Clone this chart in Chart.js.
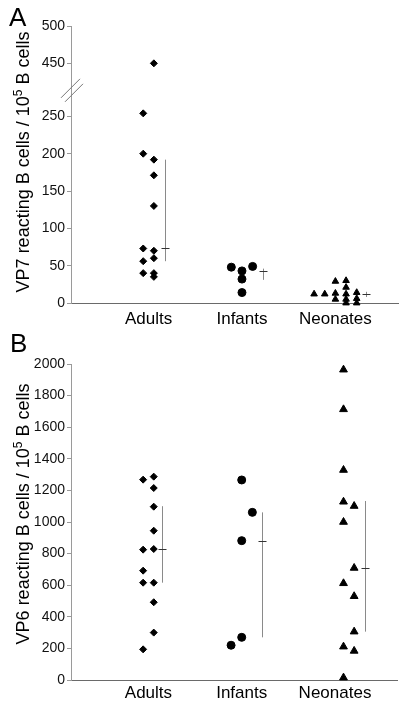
<!DOCTYPE html>
<html>
<head>
<meta charset="utf-8">
<script src="https://cdn.jsdelivr.net/npm/chart.js@4.4.0/dist/chart.umd.min.js"></script>
<style>
  body { margin: 0; background: #fff; }
  canvas { display: block; }
</style>
</head>
<body>
<canvas id="panelA" width="403" height="330"></canvas>
<canvas id="panelB" width="403" height="374"></canvas>
<script>
// categories
var groups = ['Adults', 'Infants', 'Neonates'];

// panel A - VP7 (values per 10^5 B cells)
var vp7Adults   = [450, 254, 200, 192, 171, 130, 73, 70, 60, 56, 40, 40, 35];
var vp7Infants  = [48, 43, 32, 49, 14];
var vp7Neonates = [12, 12, 29, 13, 5, 30, 21, 12, 5, 0, 14, 6, 0];
// column within the group (beeswarm slot) as seen in the figure
var vp7AdultsCol   = [0.5, -0.5, -0.5, 0.5, 0.5, 0.5, -0.5, 0.5, 0.5, -0.5, -0.5, 0.5, 0.5];
var vp7InfantsCol  = [-1, 0, 0, 1, 0];
var vp7NeonatesCol = [-2, -1, 0, 0, 0, 1, 1, 1, 1, 1, 2, 2, 2];
// median and range bars
var vp7Mid  = [73, 43, 12];
var vp7Low  = [56, 31, 8];
var vp7High = [192, 46, 15];
var vp7BarCol = [1.5, 2, 2.9];
var vp7Ticks = [0, 50, 100, 150, 200, 250, 450, 500];

// panel B - VP6
var vp6Adults   = [1287, 1268, 1215, 1097, 945, 829, 825, 692, 616, 616, 492, 300, 194];
var vp6Infants  = [1266, 1061, 882, 270, 220];
var vp6Neonates = [1964, 1713, 1329, 1128, 1101, 1000, 709, 612, 530, 306, 211, 184, 15];
var vp6AdultsCol   = [0.5, -0.5, 0.5, 0.5, 0.5, 0.5, -0.5, -0.5, -0.5, 0.5, 0.5, 0.5, -0.5];
var vp6InfantsCol  = [0, 1, 0, 0, -1];
var vp6NeonatesCol = [0.8, 0.8, 0.8, 0.8, 1.8, 0.8, 1.8, 0.8, 1.8, 1.8, 0.8, 1.8, 0.8];
var vp6Mid  = [827, 882, 709];
var vp6Low  = [616, 270, 306];
var vp6High = [1100, 1061, 1133];
var vp6BarCol = [1.3, 1.9, 2.8];
var vp6Ticks = [0, 200, 400, 600, 800, 1000, 1200, 1400, 1600, 1800, 2000];

var FONT = "'Liberation Sans', Arial, Helvetica, sans-serif";
var COL_STEP = 0.114;

// broken axis in panel A: everything above 300 is pulled down
var BREAK_AT = 300, BREAK_GAP = 129;
function vp7Axis(v) { return v > BREAK_AT ? v - BREAK_GAP : v; }
function plain(v) { return v; }

Chart.defaults.font.family = FONT;
Chart.defaults.color = '#111';

function points(values, cols, group, yMap) {
  return values.map(function (v, i) {
    return { x: group + cols[i] * COL_STEP, y: yMap(v) };
  });
}

function makeDatasets(series, cols, yMap, radii) {
  var styles = ['rectRot', 'circle', 'triangle'];
  return series.map(function (vals, g) {
    return {
      data: points(vals, cols[g], g + 1, yMap),
      pointStyle: styles[g],
      pointRadius: radii[g],
      pointBorderWidth: 1,
      backgroundColor: '#000',
      borderColor: '#000',
      showLine: false,
      clip: false
    };
  });
}

var errorBars = {
  id: 'errorBars',
  afterDatasetsDraw: function (chart, args, opts) {
    var xs = chart.scales.x, ys = chart.scales.y, ctx = chart.ctx;
    ctx.save();
    opts.mid.forEach(function (m, i) {
      var px = Math.round(xs.getPixelForValue(i + 1 + opts.col[i] * COL_STEP)) + 0.5;
      var top = ys.getPixelForValue(opts.yMap(opts.high[i]));
      var bot = ys.getPixelForValue(opts.yMap(opts.low[i]));
      var mid = Math.round(ys.getPixelForValue(opts.yMap(m))) + 0.5;
      ctx.strokeStyle = '#8a8a8a';
      ctx.lineWidth = 1;
      ctx.beginPath();
      ctx.moveTo(px, top);
      ctx.lineTo(px, bot);
      ctx.stroke();
      ctx.strokeStyle = '#333';
      ctx.beginPath();
      ctx.moveTo(px - 4, mid);
      ctx.lineTo(px + 4, mid);
      ctx.stroke();
    });
    ctx.restore();
  }
};

var decorations = {
  id: 'decorations',
  afterDraw: function (chart, args, opts) {
    var ctx = chart.ctx, a = chart.chartArea;
    ctx.save();
    // panel letter
    ctx.fillStyle = '#000';
    ctx.font = '26px ' + FONT;
    ctx.textBaseline = 'alphabetic';
    ctx.textAlign = 'left';
    ctx.fillText(opts.letter, opts.letterX, opts.letterY);
    // y axis title with superscript
    var big = '18px ' + FONT, small = '12px ' + FONT;
    ctx.font = big;
    var w1 = ctx.measureText(opts.before).width;
    var w3 = ctx.measureText(opts.after).width;
    ctx.font = small;
    var w2 = ctx.measureText(opts.sup).width;
    var x0 = -(w1 + w2 + w3) / 2;
    ctx.translate(opts.titleX, (a.top + a.bottom) / 2 + opts.titleDy);
    ctx.rotate(-Math.PI / 2);
    ctx.font = big;
    ctx.fillText(opts.before, x0, 0);
    ctx.font = small;
    ctx.fillText(opts.sup, x0 + w1, -7);
    ctx.font = big;
    ctx.fillText(opts.after, x0 + w1 + w2, 0);
    ctx.restore();
    // axis break marks
    if (opts.breakAt != null) {
      var yc = chart.scales.y.getPixelForValue(opts.breakAt);
      var ax = a.left;
      ctx.save();
      ctx.strokeStyle = '#777';
      ctx.lineWidth = 1;
      ctx.beginPath();
      ctx.moveTo(ax - 10, yc + 8);
      ctx.lineTo(ax + 9, yc - 11);
      ctx.moveTo(ax - 6, yc + 12);
      ctx.lineTo(ax + 12, yc - 6);
      ctx.stroke();
      ctx.restore();
    }
  }
};

function makeChart(id, cfg) {
  return new Chart(document.getElementById(id), {
    type: 'scatter',
    data: { datasets: cfg.datasets },
    plugins: [errorBars, decorations],
    options: {
      responsive: false,
      devicePixelRatio: 1,
      animation: false,
      events: [],
      layout: { padding: { top: cfg.top, right: 3, left: 0, bottom: 0 } },
      plugins: {
        legend: { display: false },
        tooltip: { enabled: false },
        errorBars: cfg.bars,
        decorations: cfg.deco
      },
      scales: {
        x: {
          type: 'linear',
          min: 0.17,
          max: 3.67,
          afterBuildTicks: function (s) {
            s.ticks = groups.map(function (g, i) { return { value: i + 1 }; });
          },
          afterFit: function (s) { s.height = cfg.xHeight; },
          ticks: {
            autoSkip: false,
            maxRotation: 0,
            padding: cfg.xPad,
            font: { size: 17 },
            color: '#000',
            callback: function (v, i) { return groups[i]; }
          },
          grid: { display: false, drawTicks: false },
          border: { display: true, color: '#6a6a6a', width: 1 }
        },
        y: {
          min: cfg.yMin,
          max: cfg.yMax,
          afterBuildTicks: function (s) {
            s.ticks = cfg.ticks.map(function (t) { return { value: cfg.yMap(t) }; });
          },
          afterFit: function (s) { s.width = 71; },
          ticks: {
            autoSkip: false,
            padding: 2,
            font: { size: 14 },
            color: '#111',
            callback: function (v, i) { return String(cfg.ticks[i]); }
          },
          grid: { drawOnChartArea: false, drawTicks: true, tickLength: 4, color: '#999' },
          border: { display: true, color: '#9a9a9a', width: 1 }
        }
      }
    }
  });
}

makeChart('panelA', {
  datasets: makeDatasets([vp7Adults, vp7Infants, vp7Neonates],
    [vp7AdultsCol, vp7InfantsCol, vp7NeonatesCol], vp7Axis, [3.5, 4, 3.8]),
  ticks: vp7Ticks,
  yMap: vp7Axis,
  yMin: 0,
  yMax: vp7Axis(500),
  top: 26,
  xHeight: 27,
  xPad: 6,
  bars: { mid: vp7Mid, low: vp7Low, high: vp7High, col: vp7BarCol, yMap: vp7Axis },
  deco: {
    letter: 'A', letterX: 9, letterY: 26,
    before: 'VP7 reacting B cells / 10', sup: '5', after: ' B cells',
    titleX: 29, titleDy: -2.5,
    breakAt: (250 + vp7Axis(450)) / 2
  }
});

makeChart('panelB', {
  datasets: makeDatasets([vp6Adults, vp6Infants, vp6Neonates],
    [vp6AdultsCol, vp6InfantsCol, vp6NeonatesCol], plain, [3.5, 4, 4.5]),
  ticks: vp6Ticks,
  yMap: plain,
  yMin: 0,
  yMax: 2000,
  top: 34,
  xHeight: 24,
  xPad: 3,
  bars: { mid: vp6Mid, low: vp6Low, high: vp6High, col: vp6BarCol, yMap: plain },
  deco: {
    letter: 'B', letterX: 10, letterY: 22,
    before: 'VP6 reacting B cells / 10', sup: '5', after: ' B cells',
    titleX: 29, titleDy: -8,
    breakAt: null
  }
});
</script>
</body>
</html>
